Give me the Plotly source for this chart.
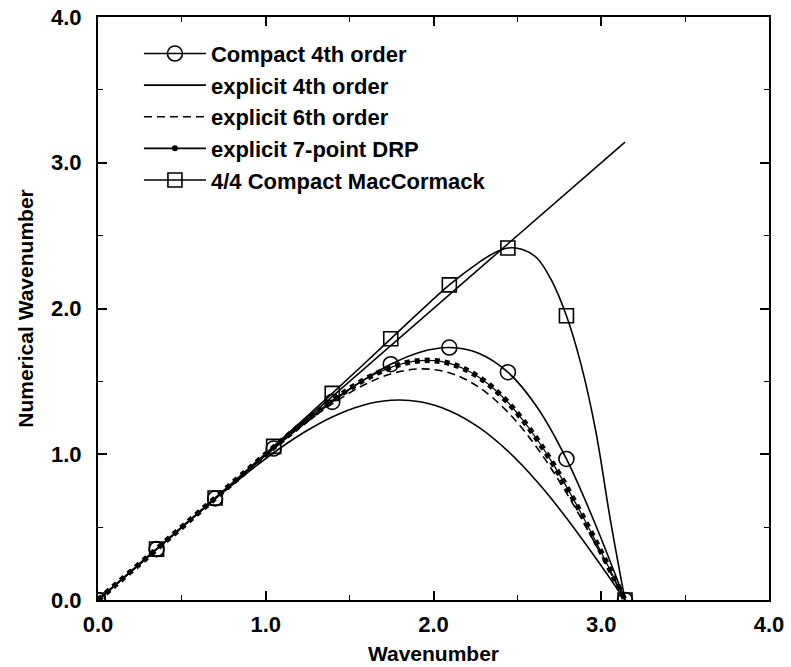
import plotly.graph_objects as go

# ---- data ----
x10 = [0, 0.1745, 0.3491, 0.5236, 0.6981, 0.8727, 1.0472, 1.2217, 1.3963, 1.5708,
       1.7453, 1.9199, 2.0944, 2.2689, 2.4435, 2.6180, 2.7925, 2.9671, 3.1416]

compact4_y = [0, 0.1745, 0.3490, 0.5234, 0.6972, 0.8696, 1.0392, 1.2037, 1.3592, 1.5000,
              1.6177, 1.7003, 1.7321, 1.6933, 1.5628, 1.3228, 0.9677, 0.5132, 0]
explicit4_y = [0, 0.1745, 0.3489, 0.5223, 0.6929, 0.8573, 1.0104, 1.1458, 1.2561, 1.3333,
               1.3701, 1.3601, 1.2990, 1.1855, 1.0212, 0.8110, 0.5632, 0.2885, 0]
explicit6_y = [0, 0.1745, 0.3491, 0.5235, 0.6976, 0.8703, 1.0392, 1.2000, 1.3457, 1.4667,
               1.5510, 1.5857, 1.5589, 1.4612, 1.2885, 1.0431, 0.7347, 0.3798, 0]

x5 = [0, 0.0873, 0.1745, 0.2618, 0.3491, 0.4363, 0.5236, 0.6109, 0.6981, 0.7854,
      0.8727, 0.9599, 1.0472, 1.1345, 1.2217, 1.3090, 1.3963, 1.4835, 1.5708, 1.6581,
      1.7453, 1.8326, 1.9199, 2.0071, 2.0944, 2.1817, 2.2689, 2.3562, 2.4435, 2.5307,
      2.6180, 2.7053, 2.7925, 2.8798, 2.9671, 3.0543, 3.1416]
drp_y = [0, 0.0873, 0.1745, 0.2618, 0.3491, 0.4364, 0.5238, 0.6113, 0.6988, 0.7863,
         0.8736, 0.9604, 1.0465, 1.1311, 1.2136, 1.2930, 1.3682, 1.4377, 1.5001, 1.5535,
         1.5963, 1.6265, 1.6423, 1.6419, 1.6239, 1.5870, 1.5303, 1.4531, 1.3555, 1.2379,
         1.1013, 0.9473, 0.7777, 0.5952, 0.4026, 0.2031, 0]

mac_x = [0, 0.1745, 0.3491, 0.5236, 0.6981, 0.8727, 1.0472, 1.2217, 1.3963, 1.5708,
         1.7453, 1.9199, 2.0944, 2.2689, 2.3562, 2.4435, 2.5307, 2.6180, 2.7053, 2.7925,
         2.8798, 2.9671, 3.0543, 3.1416]
mac_y = [0, 0.1745, 0.3491, 0.5240, 0.6995, 0.8760, 1.0540, 1.2340, 1.4180, 1.6040,
         1.7920, 1.9800, 2.1620, 2.3150, 2.3780, 2.4150, 2.4050, 2.3450, 2.1900, 1.9500,
         1.6150, 1.1600, 0.5500, 0]

# marker locations (every pi/9)
xm = [0, 0.3491, 0.6981, 1.0472, 1.3963, 1.7453, 2.0944, 2.4435, 2.7925, 3.1416]
compact4_m = [0, 0.3490, 0.6972, 1.0392, 1.3592, 1.6177, 1.7321, 1.5628, 0.9677, 0]
mac_m = [0, 0.3491, 0.6995, 1.0540, 1.4180, 1.7920, 2.1620, 2.4150, 1.9500, 0]

exact_x = [0, 3.1416]
exact_y = [0, 3.1416]

names = ["Compact 4th order", "explicit 4th order", "explicit 6th order",
         "explicit 7-point DRP", "4/4 Compact MacCormack"]

x_ticks = [0, 1, 2, 3, 4]
y_ticks = [0, 1, 2, 3, 4]

BLACK = "black"
LW = 1.6

fig = go.Figure()

fig.add_trace(go.Scatter(x=exact_x, y=exact_y, mode="lines", showlegend=False,
                         line=dict(color=BLACK, width=LW)))
fig.add_trace(go.Scatter(x=x10, y=explicit4_y, mode="lines", showlegend=False,
                         line=dict(color=BLACK, width=LW, shape="spline")))
fig.add_trace(go.Scatter(x=x10, y=explicit6_y, mode="lines", showlegend=False,
                         line=dict(color=BLACK, width=LW, shape="spline", dash="8px,5px")))
fig.add_trace(go.Scatter(x=x5, y=drp_y, mode="lines", showlegend=False,
                         line=dict(color=BLACK, width=1.2, shape="spline")))
fig.add_trace(go.Scatter(x=x5, y=drp_y, mode="lines", showlegend=False,
                         line=dict(color=BLACK, width=5.5, shape="spline", dash="5px,5px")))
fig.add_trace(go.Scatter(x=x10, y=compact4_y, mode="lines", showlegend=False,
                         line=dict(color=BLACK, width=LW, shape="spline")))
fig.add_trace(go.Scatter(x=xm, y=compact4_m, mode="markers", showlegend=False,
                         marker=dict(symbol="circle-open", size=15, color=BLACK,
                                     line=dict(width=1.6, color=BLACK))))
fig.add_trace(go.Scatter(x=mac_x, y=mac_y, mode="lines", showlegend=False,
                         line=dict(color=BLACK, width=LW, shape="spline")))
fig.add_trace(go.Scatter(x=xm, y=mac_m, mode="markers", showlegend=False,
                         marker=dict(symbol="square-open", size=14, color=BLACK,
                                     line=dict(width=1.6, color=BLACK))))

# legend entries
fig.add_trace(go.Scatter(x=[None], y=[None], mode="lines+markers", name=names[0],
                         line=dict(color=BLACK, width=LW),
                         marker=dict(symbol="circle-open", size=15, color=BLACK,
                                     line=dict(width=1.6, color=BLACK))))
fig.add_trace(go.Scatter(x=[None], y=[None], mode="lines", name=names[1],
                         line=dict(color=BLACK, width=LW)))
fig.add_trace(go.Scatter(x=[None], y=[None], mode="lines", name=names[2],
                         line=dict(color=BLACK, width=LW, dash="8px,5px")))
fig.add_trace(go.Scatter(x=[None], y=[None], mode="lines+markers", name=names[3],
                         line=dict(color=BLACK, width=LW),
                         marker=dict(symbol="circle", size=6, color=BLACK)))
fig.add_trace(go.Scatter(x=[None], y=[None], mode="lines+markers", name=names[4],
                         line=dict(color=BLACK, width=LW),
                         marker=dict(symbol="square-open", size=14, color=BLACK,
                                     line=dict(width=1.6, color=BLACK))))

FONT = "Liberation Sans, Arial, sans-serif"
axis_common = dict(
    range=[0, 4], tickvals=x_ticks, tickformat=".1f",
    ticks="inside", ticklen=9, tickwidth=1.5, tickcolor=BLACK,
    showline=True, linewidth=2, linecolor=BLACK, mirror="ticks",
    showgrid=False, zeroline=False, automargin=False,
    tickfont=dict(family=FONT, size=22, color=BLACK, weight="bold"),
    minor=dict(dtick=0.5, ticks="inside", ticklen=5, tickwidth=1.2, tickcolor=BLACK, showgrid=False),
)

fig.update_layout(
    width=791, height=667,
    margin=dict(l=98, r=22, t=17, b=67),
    paper_bgcolor="white", plot_bgcolor="white",
    font=dict(family=FONT, color=BLACK),
    xaxis=dict(axis_common, ticklabelstandoff=4,
               title=dict(text="Wavenumber", standoff=10,
                          font=dict(family=FONT, size=21, color=BLACK, weight="bold"))),
    yaxis=dict(axis_common, tickvals=y_ticks, ticklabelstandoff=10,
               title=dict(text="Numerical Wavenumber", standoff=12,
                          font=dict(family=FONT, size=21, color=BLACK, weight="bold"))),
    legend=dict(x=0.061, y=0.973, xanchor="left", yanchor="top",
                bgcolor="rgba(0,0,0,0)", borderwidth=0, itemwidth=62,
                font=dict(family=FONT, size=22, color=BLACK, weight="bold"),
                tracegroupgap=0),
    showlegend=True,
)

fig.write_html("out.html")
